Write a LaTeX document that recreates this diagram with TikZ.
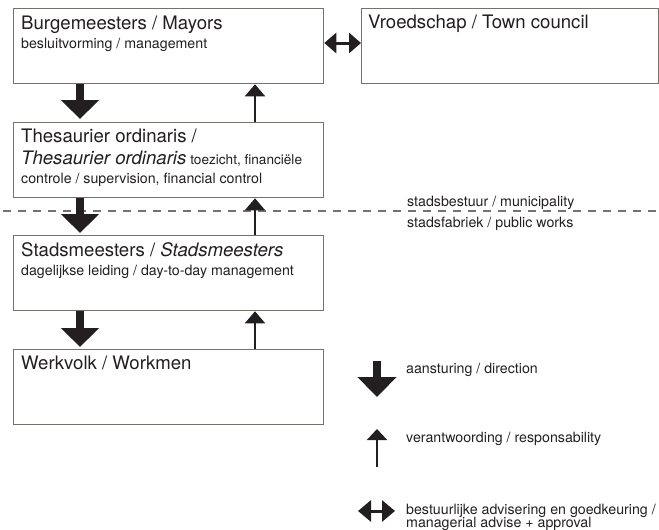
\documentclass[tikz,border=0pt]{standalone}
\usepackage{fontspec}
\setmainfont{TeX Gyre Heros}
\usetikzlibrary{arrows.meta}
\definecolor{ink}{HTML}{231F20}
\definecolor{frame}{HTML}{75716C}
\newcommand\bigtxt{\fontsize{18.6}{22}\selectfont}
\newcommand\smltxt{\fontsize{14.2}{17}\selectfont}
\begin{document}
\begin{tikzpicture}[x=1pt,y=-1pt,
  box/.style={draw=frame, line width=1.3pt, fill=white, inner sep=0pt,
    minimum width=310pt, minimum height=75pt, anchor=north west},
  lbl/.style={anchor=base west, inner sep=0pt, text=ink, font=\smltxt},
  head/.style={anchor=base west, inner sep=0pt, text=ink, font=\bigtxt},
  steer/.style={draw=ink, line width=8pt, -{Triangle[width=37pt,length=19pt]}},
  report/.style={draw=ink, line width=2pt, -{Triangle[width=20pt,length=12pt]}},
  advise/.style={draw=ink, line width=3pt,
    {Triangle[width=20pt,length=12pt]}-{Triangle[width=20pt,length=12pt]}},
  divider/.style={draw=frame, line width=1.5pt, dash pattern=on 8pt off 7pt}]
\useasboundingbox (0,0) rectangle (659,530);

% boxes
\node[box] (mayors) at (13,8) {};
\node[box, minimum width=297pt] (council) at (361,8) {};
\node[box] (treasurer) at (13,122) {};
\node[box] (masters) at (13,235) {};
\node[box, minimum height=75pt] (workmen) at (13,349) {};

% box texts
\node[head] (t1) at (21,29) {Burgemeesters / Mayors};
\node[lbl] (t1b) at (21,48) {besluitvorming / management};
\node[head] (t2) at (368,28) {Vroedschap / Town council};
\node[head] (t3) at (21,142) {Thesaurier ordinaris /};
\node[lbl] (t3b) at (21,164) {{\bigtxt\itshape Thesaurier ordinaris}
  {\fontsize{13.6}{17}\selectfont toezicht, financiële}};
\node[lbl] (t3c) at (21,183) {controle / supervision, financial control};
\node[head] (t4) at (21,256) {Stadsmeesters / \textit{Stadsmeesters}};
\node[lbl] (t4b) at (21,275) {dagelijkse leiding / day-to-day management};
\node[head] (t5) at (21,369) {Werkvolk / Workmen};

% divider between municipality and public works
\coordinate (dl) at (3,211);
\coordinate (dr) at (659,211);
\draw[divider] (dl) -- (dr);
\node[lbl] (muni) at (407,206) {stadsbestuur / municipality};
\node[lbl] (works) at (407,227) {stadsfabriek / public works};

% connectors
\coordinate (ax) at (80,0);
\coordinate (rx) at (255,0);
\draw[steer, shorten >=3pt] (mayors.south -| ax) -- (treasurer.north -| ax);
\draw[steer, shorten >=2pt] (treasurer.south -| ax) -- (masters.north -| ax);
\draw[steer, shorten >=2pt] (masters.south -| ax) -- (workmen.north -| ax);
\draw[report] (treasurer.north -| rx) -- (mayors.south -| rx);
\draw[report] (masters.north -| rx) -- (treasurer.south -| rx);
\draw[report] (workmen.north -| rx) -- (masters.south -| rx);
\draw[advise] (mayors.east |- 0,43) -- (council.west |- 0,43);

% legend
\coordinate (k1a) at (377,361);
\coordinate (k1b) at (377,397);
\draw[steer, -{Triangle[width=38pt,length=20pt]}] (k1a) -- (k1b);
\node[lbl] (k1) at (406,373) {aansturing / direction};
\coordinate (k2a) at (377,467);
\coordinate (k2b) at (377,429);
\draw[report, -{Triangle[width=20pt,length=11pt]}] (k2a) -- (k2b);
\node[lbl] (k2) at (406,442) {verantwoording / responsability};
\coordinate (k3a) at (358,511);
\coordinate (k3b) at (395,511);
\draw[advise, {Triangle[width=21pt,length=13pt]}-{Triangle[width=21pt,length=13pt]}] (k3a) -- (k3b);
\node[lbl] (k3) at (406,514) {bestuurlijke advisering en goedkeuring /};
\node[lbl] (k3b) at (406,527) {managerial advise + approval};
\end{tikzpicture}
\end{document}
